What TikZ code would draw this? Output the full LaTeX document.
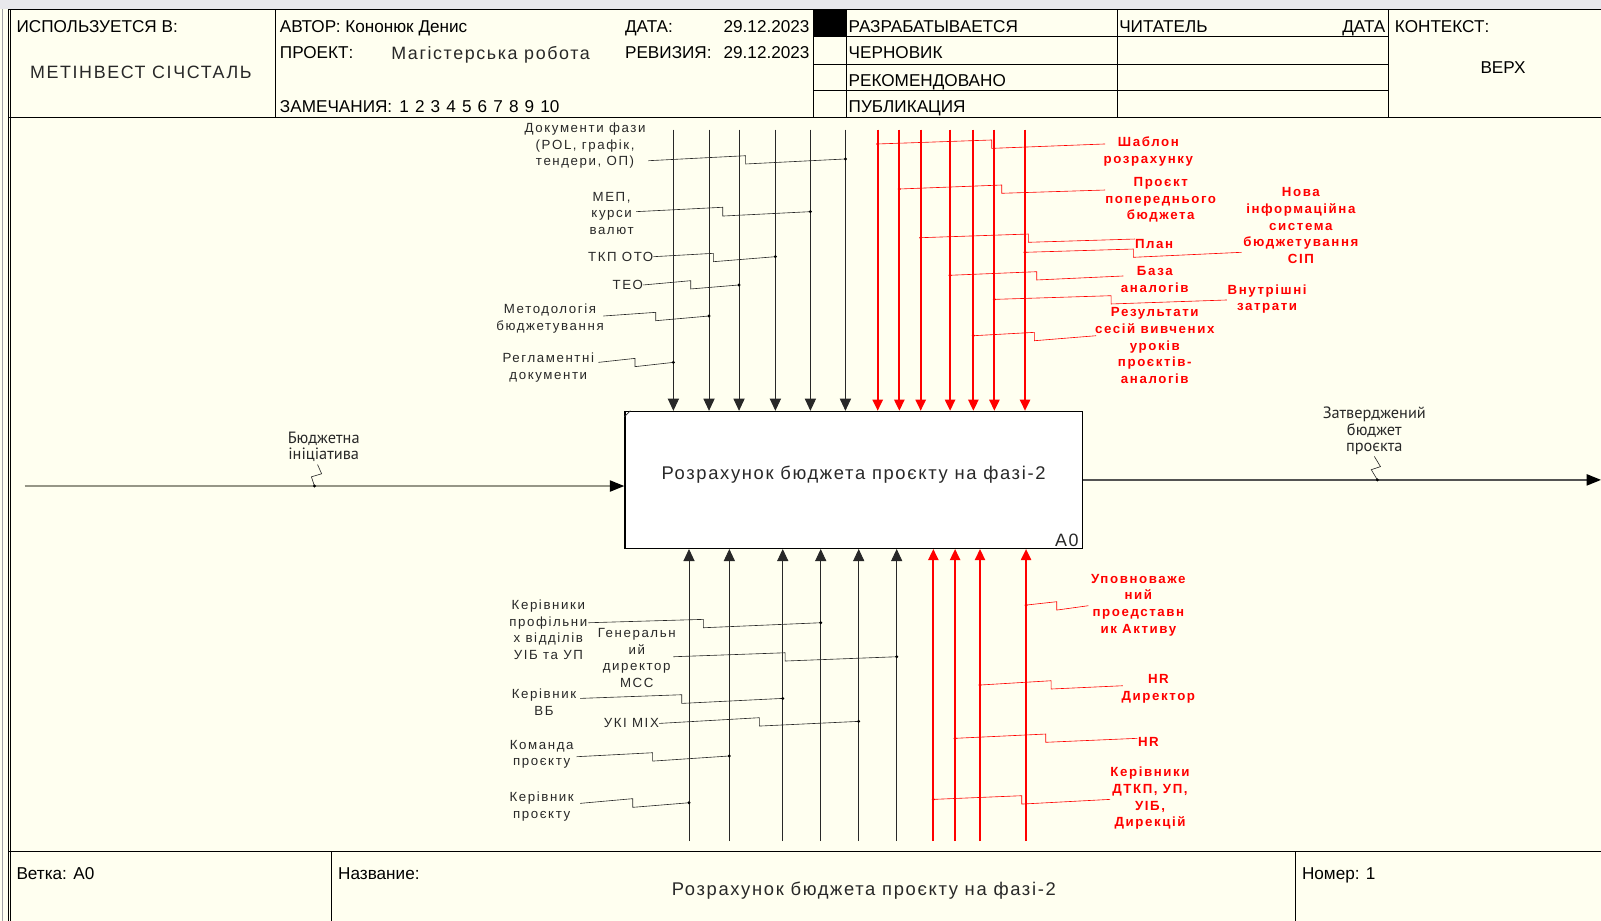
\documentclass[tikz,border=0pt]{standalone}
\usepackage{fontspec}
\usetikzlibrary{arrows.meta}
\setmainfont{Liberation Sans}
\newfontfamily\hdrfont{Liberation Sans}
\newfontfamily\flowfont{PT Sans}
\newfontfamily\lblfont[LetterSpace=12]{Liberation Sans}
\newfontfamily\thinfont[LetterSpace=9]{Liberation Sans}
\definecolor{paper}{RGB}{255,255,240}
\definecolor{idefred}{RGB}{255,0,0}
\definecolor{ink}{RGB}{40,40,40}
\definecolor{flow}{RGB}{150,150,135}
\definecolor{chrome}{RGB}{232,232,236}
\begin{document}
\begin{tikzpicture}[x=1pt,y=-1pt,
  hdr/.style={font=\hdrfont\fontsize{16.8}{18}\selectfont, anchor=base west, inner sep=0pt},
  hdrr/.style={hdr, anchor=base east},
  thintxt/.style={font=\thinfont\fontsize{17.5}{20}\selectfont, text=ink, inner sep=0pt},
  lbl/.style={font=\lblfont\fontsize{13}{16.3}\selectfont, align=center, inner sep=0pt, text=ink},
  flbl/.style={font=\flowfont\fontsize{16}{16.3}\selectfont, align=center, inner sep=0pt, text=ink},
  rlbl/.style={font=\lblfont\bfseries\fontsize{13}{16.3}\selectfont, align=center, inner sep=0pt, text=idefred},
  ctrl/.style={draw=ink, line width=0.9pt, -{Triangle[width=11pt,length=12pt]}},
  rctrl/.style={draw=idefred, line width=2pt, -{Triangle[width=10pt,length=11pt]}},
  bleader/.style={draw=ink, line width=0.6pt},
  rleader/.style={draw=idefred, line width=0.6pt},
  flowline/.style={draw=flow, line width=1.2pt, -{Triangle[width=11pt,length=14pt,color=black]}},
  dot/.style={fill=black},
  rdot/.style={fill=idefred},
]
\useasboundingbox (0,0) rectangle (1568,902);
% paper and window chrome
\fill[paper] (0,0) rectangle (1568,902);
\fill[chrome] (0,0) rectangle (1568,9);
\draw[chrome!70!black, line width=0.6pt] (2.5,9) -- (2.5,902);
\draw[black, line width=0.8pt] (8.5,9) -- (8.5,902);
\draw[black, line width=0.8pt] (10.5,9) -- (10.5,902);

% ---------- header grid ----------
\draw[black, line width=1.2pt] (8.5,9) -- (1568,9);
\draw[black, line width=1.2pt] (8.5,115) -- (1568,115);
\draw[black, line width=0.9pt] (270,9) -- (270,115);
\draw[black, line width=0.9pt] (797,9) -- (797,115);
\draw[black, line width=0.9pt] (829,9) -- (829,115);
\draw[black, line width=0.9pt] (1094,9) -- (1094,115);
\draw[black, line width=0.9pt] (1360,9) -- (1360,115);
\foreach \yy in {36,63,89} \draw[black, line width=0.9pt] (797,\yy) -- (1360,\yy);
\fill[black] (797,9) rectangle (829,36);

\node[hdr] (hused) at (16,32) {ИСПОЛЬЗУЕТСЯ В:};
\node[thintxt] (hclient) at (138,71) {МЕТІНВЕСТ СІЧСТАЛЬ};
\node[hdr] (hauthor) at (274,31.5) {АВТОР: Кононюк Денис};
\node[hdr] (hdate) at (612,31.5) {ДАТА:};
\node[hdrr] (hdatev) at (793,31.5) {29.12.2023};
\node[hdr] (hproj) at (274,57.5) {ПРОЕКТ:};
\node[thintxt, anchor=base west] (hprojv) at (383,58.5) {Магістерська робота};
\node[hdr] (hrev) at (612,57.5) {РЕВИЗИЯ:};
\node[hdrr] (hrevv) at (793,57.5) {29.12.2023};
\node[hdr] (hnotes) at (274,110.5) {ЗАМЕЧАНИЯ:\hskip 7pt 1\hskip 6pt 2\hskip 6pt 3\hskip 6pt 4\hskip 6pt 5\hskip 6pt 6\hskip 6pt 7\hskip 6pt 8\hskip 6pt 9\hskip 6pt 10};
\node[hdr] (st1) at (831,31.5) {РАЗРАБАТЫВАЕТСЯ};
\node[hdr] (st2) at (831,57.5) {ЧЕРНОВИК};
\node[hdr] (st3) at (831,84.5) {РЕКОМЕНДОВАНО};
\node[hdr] (st4) at (831,110.5) {ПУБЛИКАЦИЯ};
\node[hdr] (hreader) at (1096,31.5) {ЧИТАТЕЛЬ};
\node[hdrr] (hrdate) at (1357,31.5) {ДАТА};
\node[hdr] (hctx) at (1366,31.5) {КОНТЕКСТ:};
\node[hdr, anchor=center] (hctxv) at (1472,66) {ВЕРХ};

% ---------- footer ----------
\draw[black, line width=1.2pt] (8.5,834) -- (1568,834);
\draw[black, line width=0.9pt] (325,834) -- (325,902);
\draw[black, line width=0.9pt] (1269,834) -- (1269,902);
\node[hdr] (fnode) at (16,861.5) {Ветка: А0};
\node[hdr] (fname) at (331,861.5) {Название:};
\node[thintxt, font=\thinfont\fontsize{18}{20}\selectfont] (ftitle) at (846,872) {Розрахунок бюджета проєкту на фазі-2};
\node[hdr] (fnum) at (1275,861.5) {Номер: 1};

% ---------- activity box ----------
\node[draw=black, fill=white, line width=1.3pt, minimum width=448pt, minimum height=134pt, inner sep=0pt]
  (box) at (836,470) {};
\node[thintxt, font=\thinfont\fontsize{18}{20}\selectfont] (boxtitle) at (836,465) {Розрахунок бюджета проєкту на фазі-2};
\node[thintxt, anchor=south east] (boxid) at ([xshift=-4pt,yshift=2pt]box.south east) {А0};
\draw[ink, line width=0.6pt] ([yshift=-6pt]box.north west) -- ([xshift=6pt]box.north west);

% ---------- input ----------
\coordinate (inStart) at (24,476);
\coordinate (inDot) at (308,476);
\draw[flowline] (inStart) -- (inStart -| box.west);
\node[flbl] (inLbl) at (317,437.5) {Бюджетна\\ініціатива};
\draw[bleader] (311,455) -- (315,464) -- (305,467) -- (inDot);
\fill[dot] (inDot) circle (1.6);

% ---------- output ----------
\coordinate (outEnd) at (1568,470);
\coordinate (outDot) at (1349,470);
\draw[flowline, draw=ink!80] (box.east |- outEnd) -- (outEnd);
\node[flbl] (outLbl) at (1346,422) {Затверджений\\бюджет\\проєкта};
\draw[bleader] (1346,447) -- (1352,457) -- (1343,460) -- (outDot);
\fill[dot] (outDot) circle (1.6);

% ---------- controls (black) ----------
\foreach \n/\xx in {1/659.5,2/694.4,3/723.8,4/759.4,5/793.7,6/828}{
  \coordinate (c\n) at (\xx,127);
  \draw[ctrl] (c\n) -- (c\n |- box.north);
}
\node[lbl] (t1) at (573,142.8) {Документи фази\\(POL, графік,\\тендери, ОП)};
\coordinate (t1s) at (635,157.4); \coordinate (t1d) at (828,155.7);
\draw[bleader] (t1s) -- (730.3,152.5) -- (730.3,160.6) -- (t1d);
\node[lbl] (t2) at (599,208.8) {МЕП,\\курси\\валют};
\coordinate (t2s) at (622.9,207.3); \coordinate (t2d) at (793.7,207.3);
\draw[bleader] (t2s) -- (707.8,203) -- (707.8,211.6) -- (t2d);
\node[lbl, anchor=east] (t3) at (640,251.4) {ТКП ОТО};
\coordinate (t3d) at (759.4,251.4);
\draw[bleader] (t3.east) -- (698.7,248.1) -- (698.7,256.3) -- (t3d);
\node[lbl, anchor=east] (t4) at (630,279.1) {ТЕО};
\coordinate (t4d) at (723.8,279.1);
\draw[bleader] (t4.east) -- (676.5,274.9) -- (676.5,283) -- (t4d);
\node[lbl] (t5) at (538.7,312.3) {Методологія\\бюджетування};
\coordinate (t5s) at (590.9,309.5); \coordinate (t5d) at (694.4,309.5);
\draw[bleader] (t5s) -- (642.2,305.9) -- (642.2,314.1) -- (t5d);
\node[lbl] (t6) at (537,360) {Регламентні\\документи};
\coordinate (t6s) at (586,354.9); \coordinate (t6d) at (659.5,354.9);
\draw[bleader] (t6s) -- (621.9,351) -- (621.9,359.1) -- (t6d);
\foreach \d in {t1d,t2d,t3d,t4d,t5d,t6d} \fill[dot] (\d) circle (1.6);

% ---------- controls (red) ----------
\foreach \n/\xx in {1/859.6,2/880.8,3/901.7,4/930.5,5/953.3,6/973.9,7/1003.9}{
  \coordinate (rc\n) at (\xx,127);
  \draw[rctrl] (rc\n) -- (rc\n |- box.north);
}
\node[rlbl] (r1) at (1124.7,148.2) {Шаблон\\розрахунку};
\coordinate (r1d) at (859.6,141); \coordinate (r1e) at (1082.3,141);
\draw[rleader] (r1d) -- (971.3,137.1) -- (971.3,145.3) -- (r1e);
\node[rlbl] (r2) at (1136.8,195.8) {Проєкт\\попереднього\\бюджета};
\coordinate (r2d) at (880.8,185.1); \coordinate (r2e) at (1082.3,186.1);
\draw[rleader] (r2d) -- (981.1,181.2) -- (981.1,189.3) -- (r2e);
\node[rlbl] (r3) at (1130.3,239.3) {План};
\coordinate (r3d) at (901.7,232.8); \coordinate (r3e) at (1111.7,234.1);
\draw[rleader] (r3d) -- (1007.2,229.2) -- (1007.2,237.3) -- (r3e);
\node[rlbl] (r4) at (1274,221) {Нова\\інформаційна\\система\\бюджетування\\СІП};
\coordinate (r4d) at (1003.9,247.1); \coordinate (r4e) at (1216.1,247.1);
\draw[rleader] (r4d) -- (1110,243.9) -- (1110,252) -- (r4e);
\node[rlbl] (r5) at (1131,274) {База\\аналогів};
\coordinate (r5d) at (930.5,269.6); \coordinate (r5e) at (1100.2,270.3);
\draw[rleader] (r5d) -- (1015.4,266.1) -- (1015.4,274.2) -- (r5e);
\node[rlbl] (r6) at (1241,293) {Внутрішні\\затрати};
\coordinate (r6d) at (973.9,293.2); \coordinate (r6e) at (1201.5,293.8);
\draw[rleader] (r6d) -- (1088.2,289.6) -- (1088.2,297.7) -- (r6e);
\node[rlbl] (r7) at (1131,338.5) {Результати\\сесій вивчених\\уроків\\проєктів-\\аналогів};
\coordinate (r7d) at (953.3,328.8); \coordinate (r7e) at (1073.5,328.8);
\draw[rleader] (r7d) -- (1013,325.5) -- (1013,333.7) -- (r7e);
\foreach \d in {r1d,r2d,r3d,r4d,r5d,r6d,r7d} \fill[rdot] (\d) circle (1.6);

% ---------- mechanisms (black) ----------
\foreach \n/\xx in {1/674.8,2/714.3,3/766.6,4/803.8,5/841,6/878.2}{
  \coordinate (m\n) at (\xx,823.7);
  \draw[ctrl] (m\n) -- (m\n |- box.south);
}
\node[lbl] (b1) at (537,616.7) {Керівники\\профільни\\х відділів\\УІБ та УП};
\coordinate (b1s) at (576.2,609.9); \coordinate (b1d) at (803.8,609.9);
\draw[bleader] (b1s) -- (688.9,606.6) -- (688.9,614.8) -- (b1d);
\node[lbl] (b2) at (623.6,644.3) {Генеральн\\ий\\директор\\МСС};
\coordinate (b2s) at (659.5,643.2); \coordinate (b2d) at (878.2,643.2);
\draw[bleader] (b2s) -- (768.9,639.3) -- (768.9,647.4) -- (b2d);
\node[lbl] (b3) at (532.8,688) {Керівник\\ВБ};
\coordinate (b3s) at (568.1,684); \coordinate (b3d) at (766.6,684);
\draw[bleader] (b3s) -- (667.7,680.4) -- (667.7,688.9) -- (b3d);
\node[lbl, anchor=east] (b4) at (645.5,708.5) {УКІ МІХ};
\coordinate (b4d) at (841,706.5);
\draw[bleader] (b4.east) -- (743.7,702.9) -- (743.7,711.1) -- (b4d);
\node[lbl] (b5) at (530.5,738.6) {Команда\\проєкту};
\coordinate (b5s) at (564.8,741.1); \coordinate (b5d) at (714.3,740.4);
\draw[bleader] (b5s) -- (639.2,737.2) -- (639.2,745.4) -- (b5d);
\node[lbl] (b6) at (530.5,789.7) {Керівник\\проєкту};
\coordinate (b6s) at (568.1,786.8); \coordinate (b6d) at (674.8,786.2);
\draw[bleader] (b6s) -- (619.7,782.2) -- (619.7,790.7) -- (b6d);
\foreach \d in {b1d,b2d,b3d,b4d,b5d,b6d} \fill[dot] (\d) circle (1.6);

% ---------- mechanisms (red) ----------
\foreach \n/\xx in {1/914.1,2/935.4,3/959.8,4/1004.9}{
  \coordinate (rm\n) at (\xx,823.7);
  \draw[rctrl] (rm\n) -- (rm\n |- box.south);
}
\node[rlbl] (r8) at (1114.9,592.5) {Уповноваже\\ний\\проедставн\\ик Активу};
\coordinate (r8d) at (1004.9,592.6); \coordinate (r8e) at (1066,593.2);
\draw[rleader] (r8d) -- (1034.9,589.3) -- (1034.9,597.5) -- (r8e);
\node[rlbl] (r9) at (1134.5,674.5) {HR\\Директор};
\coordinate (r9d) at (959.8,670.9); \coordinate (r9e) at (1099.6,671.6);
\draw[rleader] (r9d) -- (1029.4,666.7) -- (1029.4,674.8) -- (r9e);
\node[rlbl] (r10) at (1124.7,726.4) {HR};
\coordinate (r10d) at (935.4,723.1); \coordinate (r10e) at (1113.9,723.1);
\draw[rleader] (r10d) -- (1024.2,718.9) -- (1024.2,727) -- (r10e);
\node[rlbl] (r11) at (1126.3,782) {Керівники\\ДТКП, УП,\\УІБ,\\Дирекцій};
\coordinate (r11d) at (914.1,782.9); \coordinate (r11e) at (1087.2,782.9);
\draw[rleader] (r11d) -- (1000.7,779.3) -- (1000.7,787.5) -- (r11e);
\foreach \d in {r8d,r9d,r10d,r11d} \fill[rdot] (\d) circle (1.6);
\end{tikzpicture}
\end{document}
